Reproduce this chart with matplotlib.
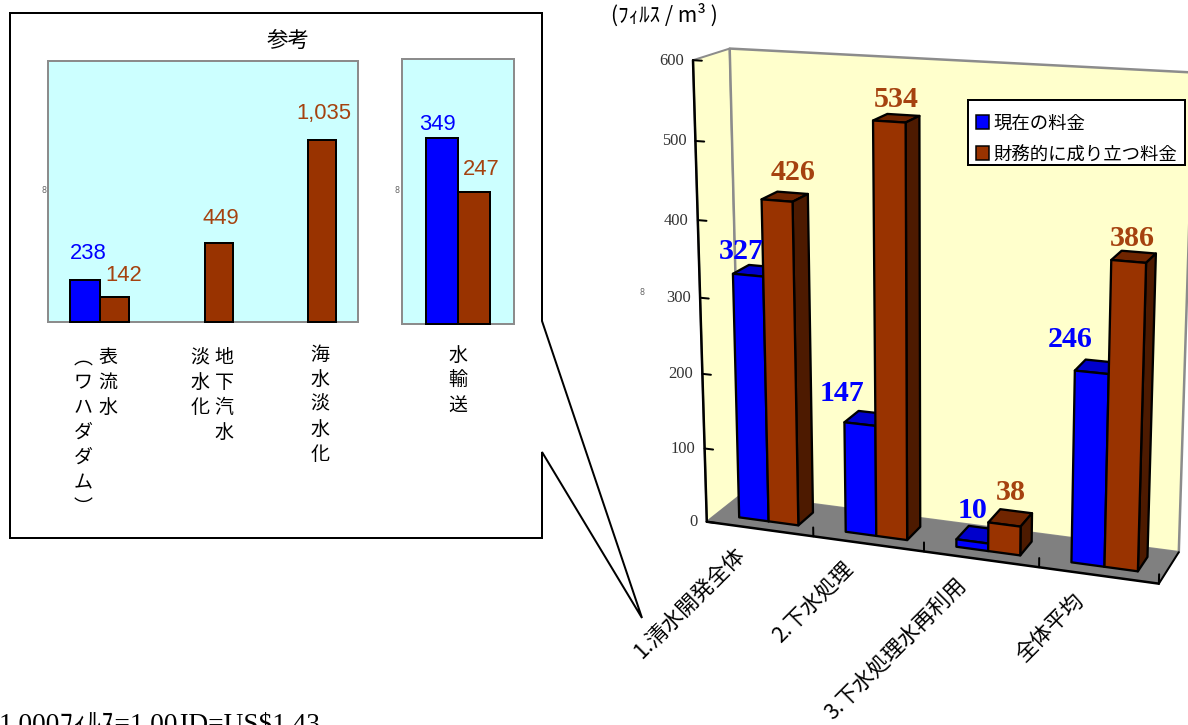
import numpy as np
import matplotlib
matplotlib.use("Agg")
import matplotlib.pyplot as plt
from matplotlib.patches import Polygon, Rectangle

JP = ["Noto Sans CJK JP", "DejaVu Sans"]
SERIF = ["Liberation Serif", "Noto Sans CJK JP"]
SANS = ["Liberation Sans", "Noto Sans CJK JP"]

# Main chart values (fils per m3)
categories = ["1.清水開発全体", "2.下水処理", "3.下水処理水再利用", "全体平均"]
current_fee = [327, 147, 10, 246]
viable_fee = [426, 534, 38, 386]
series_names = ["現在の料金", "財務的に成り立つ料金"]
y_ticks = [0, 100, 200, 300, 400, 500, 600]

# Reference panel values
ref_labels = ["表\n流\n水", "地\n下\n汽\n水", "海\n水\n淡\n水\n化"]
ref_current = [238]
ref_viable = [142, 449, 1035]
transport_current = [349]
transport_viable = [247]

BLUE, BLUE_TOP = "#0000FF", "#0000CC"
BROWN, BROWN_TOP, BROWN_SIDE = "#993300", "#702500", "#4D1A00"
BROWN_TXT = "#A5420F"
WALL, FLOOR, EDGE = "#FFFFCC", "#808080", "#8C8C8C"
PANEL = "#CCFFFF"

W, H = 1188, 725
fig = plt.figure(figsize=(W / 100, H / 100), dpi=100, facecolor="white")
px = 1 / fig.dpi * 72  # points per pixel
canvas = fig.add_axes([0, 0, 1, 1], zorder=0)
canvas.set_xlim(0, W)
canvas.set_ylim(H, 0)
canvas.axis("off")

# Perspective calibration of the 3-D box: (category, value, depth) -> canvas
calibration = [
    (0, 0, 0, 706, 522), (4, 0, 0, 1158.7, 585), (0, 0, 1, 739.5, 496),
    (4, 0, 1, 1179, 552), (0, 600, 0, 692.6, 60), (0, 600, 1, 730.5, 48.3),
    (4, 600, 1, 1193, 72), (0, 100, 0, 703.9, 448), (0, 200, 0, 702.4, 374),
    (0, 300, 0, 699.4, 298), (0, 400, 0, 696.8, 220), (0, 500, 0, 695.6, 141),
    (1, 0, 0, 814.5, 536), (2, 0, 0, 922.5, 552), (3, 0, 0, 1038.7, 567),
    (0.5, 0, .27, 770.6, 520.3), (1.5, 534, .27, 873.7, 120.7),
    (3.5, 386, .27, 1112, 260), (3.78, 386, .27, 1146, 263),
    (3.5, 0, .27, 1105, 566), (1.5, 0, .27, 876.4, 536),
    (0.22, 327, .27, 734, 275), (0.22, 0, .27, 740, 516),
]


def fit_projection(rows):
    eqs = []
    for u, v, w, x, y in rows:
        X = np.array([u / 4, v / 600, w, 1.0])
        x, y = x / 1000, y / 1000
        eqs.append(np.r_[X, np.zeros(4), -x * X])
        eqs.append(np.r_[np.zeros(4), X, -y * X])
    return np.linalg.svd(np.array(eqs))[2][-1].reshape(3, 4)


P = fit_projection(calibration)


def project(u, v, w):
    q = P @ np.array([u / 4, v / 600, w, 1.0])
    return q[0] / q[2] * 1000, q[1] / q[2] * 1000


def face(points, color, edge="black", lw=2.3, z=2):
    canvas.add_patch(Polygon([project(*p) for p in points], closed=True, facecolor=color,
                             edgecolor=edge, linewidth=lw * px, joinstyle="round", zorder=z))


def line3d(a, b, color, lw, z=5):
    (x0, y0), (x1, y1) = project(*a), project(*b)
    canvas.plot([x0, x1], [y0, y1], color=color, lw=lw * px, solid_capstyle="round", zorder=z)


def box(u0, u1, h, front, top, side, z):
    w0, w1 = 0.27, 0.73
    face([(u0, h, w0), (u1, h, w0), (u1, h, w1), (u0, h, w1)], top, z=z)
    face([(u1, 0, w0), (u1, h, w0), (u1, h, w1), (u1, 0, w1)], side, z=z)
    face([(u0, 0, w0), (u1, 0, w0), (u1, h, w0), (u0, h, w0)], front, z=z)


# Walls and floor
Ymax = y_ticks[-1]
face([(0, 0, 0), (0, Ymax, 0), (0, Ymax, 1), (0, 0, 1)], WALL, EDGE, 2, 1)
face([(0, 0, 1), (0, Ymax, 1), (4, Ymax, 1), (4, 0, 1)], WALL, EDGE, 2.5, 1)
face([(0, 0, 0), (4, 0, 0), (4, 0, 1), (0, 0, 1)], FLOOR, FLOOR, 1, 1)

# Axis lines and tick marks
line3d((0, 0, 0), (0, Ymax, 0), "black", 2.5)
line3d((0, 0, 0), (4, 0, 0), "black", 2.5)
line3d((4, 0, 0), (4, 0, 1), "black", 2)
for t in y_ticks:
    line3d((0, t, 0), (0.08, t, 0), "black", 2)
    x, y = project(0, t, 0)
    canvas.text(x - 9, y + 0.5, str(t), ha="right", va="center", family=SERIF,
                fontsize=16.5 * px, color="#333333", zorder=6)
for c in range(1, 5):
    line3d((c, 0, 0), (c, 12, 0), "black", 2)

# Bars, drawn blue first so each brown bar hides the side of its neighbour
value_nudge_current = [(-7, -24), (-18, -31), (0, -31), (-22, -33)]
value_nudge_viable = [(16, -28), (7, -22), (6, -32), (4, -23)]
for i, (cur, via) in enumerate(zip(current_fee, viable_fee)):
    box(i + .22, i + .5, cur, BLUE, BLUE_TOP, BLUE_TOP, 3 + i * .1)
    box(i + .5, i + .78, via, BROWN, BROWN_TOP, BROWN_SIDE, 3.05 + i * .1)
    x, y = project(i + .36, cur, .27)
    canvas.text(x + value_nudge_current[i][0], y + value_nudge_current[i][1], str(cur),
                color=BLUE, family=SERIF, weight="bold", fontsize=30 * px,
                ha="center", va="center", zorder=7)
    x, y = project(i + .64, via, .27)
    canvas.text(x + value_nudge_viable[i][0], y + value_nudge_viable[i][1], str(via),
                color=BROWN_TXT, family=SERIF, weight="bold", fontsize=30 * px,
                ha="center", va="center", zorder=7)
    x, y = project(i + .5, 0, 0)
    canvas.text(x - 18, y + 22, categories[i], rotation=45, rotation_mode="anchor",
                ha="right", va="center", family=JP, fontsize=21.5 * px, color="black", zorder=6)

# Unit caption, exchange rate note
canvas.text(611, 15, "(ﾌｨﾙｽ / m³ )", family=JP, fontsize=21 * px, ha="left", va="center")
canvas.text(-1, 731.5, "1,000ﾌｨﾙｽ=1.00JD=US$1.43", family=SERIF, fontsize=27.4 * px,
            ha="left", va="baseline", clip_on=False)

# Legend box with one swatch and label per series
canvas.add_patch(Rectangle((968, 100), 216.5, 65, facecolor="white", edgecolor="black",
                           linewidth=2 * px, zorder=8))
for name, color, top, height, mid in zip(series_names, [BLUE, BROWN],
                                         [114.5, 146], [14.5, 13.5], [123.5, 156]):
    canvas.add_patch(Rectangle((976, top), 13, height, facecolor=color, edgecolor="black",
                               linewidth=1.5 * px, zorder=9))
    canvas.text(993, mid, name, family=JP, fontsize=18.4 * px, ha="left", va="center", zorder=9)

# Callout frame around the reference panels
callout = [(10, 13), (542, 13), (542, 321), (642, 618), (542, 452), (542, 538), (10, 538)]
canvas.add_patch(Polygon(callout, closed=True, facecolor="white", edgecolor="black",
                         linewidth=2 * px, joinstyle="miter", zorder=0.5))
canvas.text(288, 40.5, "参考", family=JP, fontsize=21.5 * px, ha="center", va="center")


def panel(left, top, right, bottom, ymax, n):
    ax = fig.add_axes([left / W, 1 - bottom / H, (right - left) / W, (bottom - top) / H],
                      zorder=2, facecolor=PANEL)
    ax.set_xlim(0, n)
    ax.set_ylim(0, ymax)
    ax.set_xticks([])
    ax.set_yticks([])
    for s in ax.spines.values():
        s.set_color(EDGE)
        s.set_linewidth(2 * px)
    return ax


def note(ax, x, val, color, dx, dy):
    ax.annotate(f"{val:,}", (x, val), xytext=(dx * px, dy * px), textcoords="offset points",
                color=color, family=SANS, fontsize=22 * px, ha="center", va="center",
                annotation_clip=False)


BAR_STYLE = dict(edgecolor="black", linewidth=2 * px, clip_on=False, zorder=3)

# Left panel: surface water, groundwater, seawater
ax1 = panel(48.2, 60.7, 358, 322, 1489, 3)
bar_w = 0.285
ax1.bar(0.5 - bar_w / 2, ref_current[0], bar_w, color=BLUE, **BAR_STYLE)
ax1.bar(0.5 + bar_w / 2, ref_viable[0], bar_w, color=BROWN, **BAR_STYLE)
ax1.bar(1.65, ref_viable[1], 0.272, color=BROWN, **BAR_STYLE)
ax1.bar(2.65, ref_viable[2], 0.272, color=BROWN, **BAR_STYLE)
note(ax1, 0.5 - bar_w / 2, ref_current[0], BLUE, 3, 26.5)
note(ax1, 0.5 + bar_w / 2, ref_viable[0], BROWN_TXT, 9, 21.5)
note(ax1, 1.65, ref_viable[1], BROWN_TXT, 2, 24.5)
note(ax1, 2.65, ref_viable[2], BROWN_TXT, 2, 26.5)

# Right panel: water transport
ax2 = panel(402, 58.7, 514, 324.3, 497, 1)
w2 = 0.287
ax2.bar(0.5 - w2 / 2, transport_current[0], w2, color=BLUE, **BAR_STYLE)
ax2.bar(0.5 + w2 / 2, transport_viable[0], w2, color=BROWN, **BAR_STYLE)
note(ax2, 0.5 - w2 / 2, transport_current[0], BLUE, -4, 13.5)
note(ax2, 0.5 + w2 / 2, transport_viable[0], BROWN_TXT, 7, 22.5)

# Vertical category captions
cap = dict(family=JP, fontsize=19 * px, ha="center", va="top", linespacing=1.25, color="black")
canvas.text(108, 347, ref_labels[0], **cap)
canvas.text(83, 347, "︵\nワ\nハ\nダ\nダ\nム\n︶", **cap)
canvas.text(224, 347, ref_labels[1], **cap)
canvas.text(200, 347, "淡\n水\n化", **cap)
canvas.text(320, 343.5, ref_labels[2], **cap)
canvas.text(458, 344.5, "水\n輸\n送", **cap)

# Illegibly small axis captions beside each plot
for x, y in [(44, 190), (397, 190), (642, 292)]:
    canvas.text(x, y, "8", fontsize=8 * px, color="#666666", ha="center", va="center")

fig.savefig("out.png", dpi=100, facecolor="white")
